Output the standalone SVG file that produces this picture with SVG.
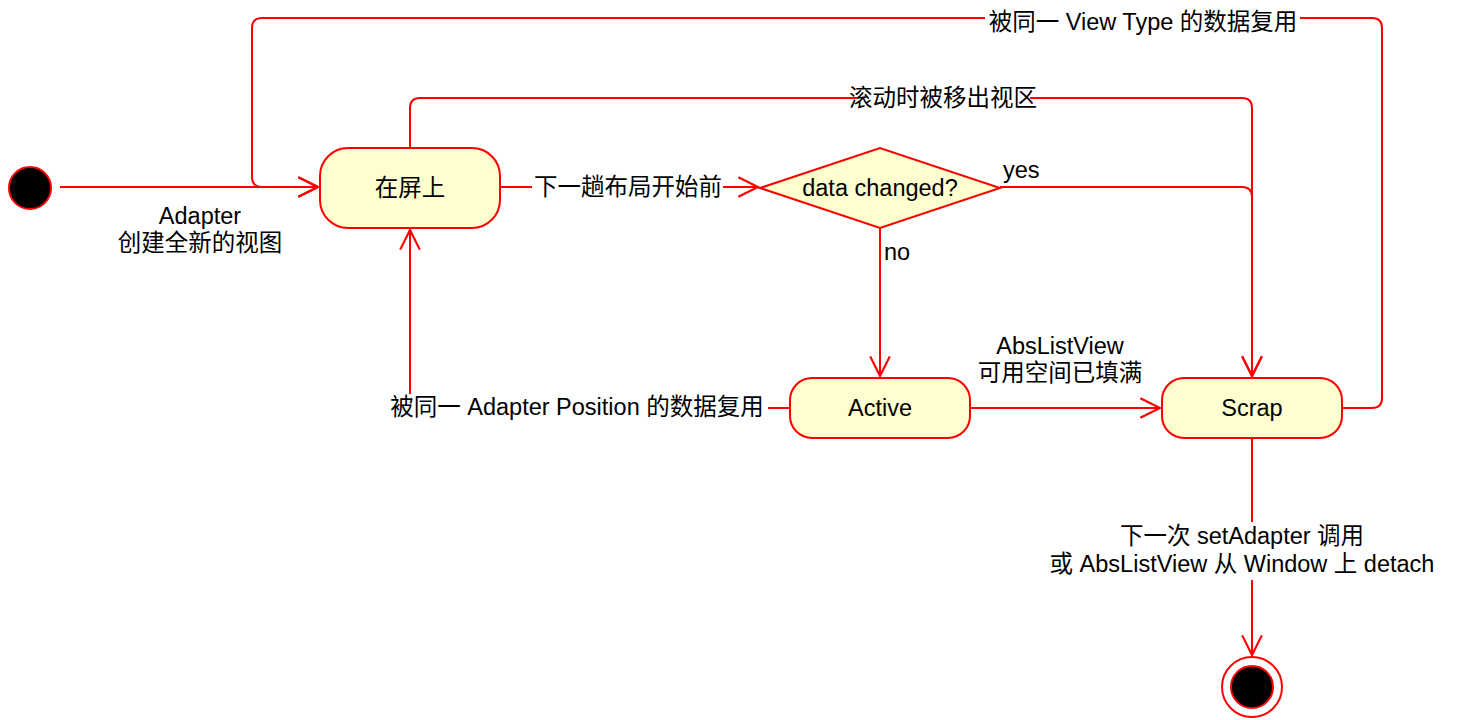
<svg xmlns="http://www.w3.org/2000/svg" width="1457" height="720" viewBox="0 0 1457 720">
<style>
text{font-family:"Liberation Sans","Noto Sans CJK SC",sans-serif;font-size:23.5px;fill:#000;}
.c{text-anchor:middle;}
.node{fill:#FEFECE;stroke:#FF0000;stroke-width:2;}
.edge{fill:none;stroke:#FF0000;stroke-width:2;}
.bg{fill:#FFFFFF;}
</style>
<defs>
<marker id="arr" markerUnits="userSpaceOnUse" markerWidth="24" markerHeight="24" viewBox="-20 -10 22 20" refX="0" refY="0" orient="auto" overflow="visible">
<path d="M-18,-9 L0,0 L-18,9" fill="none" stroke="#FF0000" stroke-width="2"/>
</marker>
</defs>
<rect width="1457" height="720" fill="#FFFFFF"/>
<g id="connectors">
<path class="edge" d="M60,187 H318" marker-end="url(#arr)"/>
<path class="edge" d="M1342,408 H1372 Q1382,408 1382,398 V28 Q1382,18 1372,18 H262 Q252,18 252,28 V177 Q252,187 262,187 H318" marker-end="url(#arr)"/>
<path class="edge" d="M410,148 V108 Q410,98 420,98 H1242 Q1252,98 1252,108 V376" marker-end="url(#arr)"/>
<path class="edge" d="M500,187 H758" marker-end="url(#arr)"/>
<path class="edge" d="M1000,187 H1242 Q1252,187 1252,197 V376" marker-end="url(#arr)"/>
<path class="edge" d="M880,228 V376" marker-end="url(#arr)"/>
<path class="edge" d="M970,408 H1160" marker-end="url(#arr)"/>
<path class="edge" d="M790,408 H410 V230" marker-end="url(#arr)"/>
<path class="edge" d="M1252,438 V655" marker-end="url(#arr)"/>
</g>
<g id="labels">
<text class="c" x="200" y="224">Adapter</text>
<text class="c" x="200" y="251">创建全新的视图</text>
<rect class="bg" x="985" y="6" width="315" height="26"/>
<text class="c" x="1143" y="30">被同一 View Type 的数据复用</text>
<rect class="bg" x="857" y="86" width="173" height="26"/>
<text class="c" x="943" y="106">滚动时被移出视区</text>
<rect class="bg" x="532" y="175" width="191" height="26"/>
<text class="c" x="628" y="195">下一趟布局开始前</text>
<text x="1003" y="178">yes</text>
<text x="884" y="260">no</text>
<text class="c" x="1060" y="354">AbsListView</text>
<text class="c" x="1060" y="381">可用空间已填满</text>
<rect class="bg" x="386" y="394" width="382" height="28"/>
<text class="c" x="577" y="415">被同一 Adapter Position 的数据复用</text>
<rect class="bg" x="1044" y="522" width="398" height="58"/>
<text class="c" x="1242" y="544">下一次 setAdapter 调用</text>
<text class="c" x="1242" y="572">或 AbsListView 从 Window 上 detach</text>
</g>
<g id="start"><circle cx="30" cy="188" r="21" fill="#000" stroke="#FF0000" stroke-width="2"/></g>
<g id="onscreen"><rect class="node" x="320" y="148" width="180" height="80" rx="28" ry="28"/><text class="c" x="410" y="196">在屏上</text></g>
<g id="decision"><polygon class="node" points="760,188 880,148 1000,188 880,228"/><text class="c" x="880" y="196">data changed?</text></g>
<g id="active"><rect class="node" x="790" y="378" width="180" height="60" rx="22" ry="22"/><text class="c" x="880" y="416">Active</text></g>
<g id="scrap"><rect class="node" x="1162" y="378" width="180" height="60" rx="22" ry="22"/><text class="c" x="1252" y="416">Scrap</text></g>
<g id="end"><circle cx="1252" cy="687" r="30" fill="#FFFFFF" stroke="#FF0000" stroke-width="2"/><circle cx="1252" cy="687" r="21" fill="#000" stroke="#FF0000" stroke-width="2"/></g>
</svg>
